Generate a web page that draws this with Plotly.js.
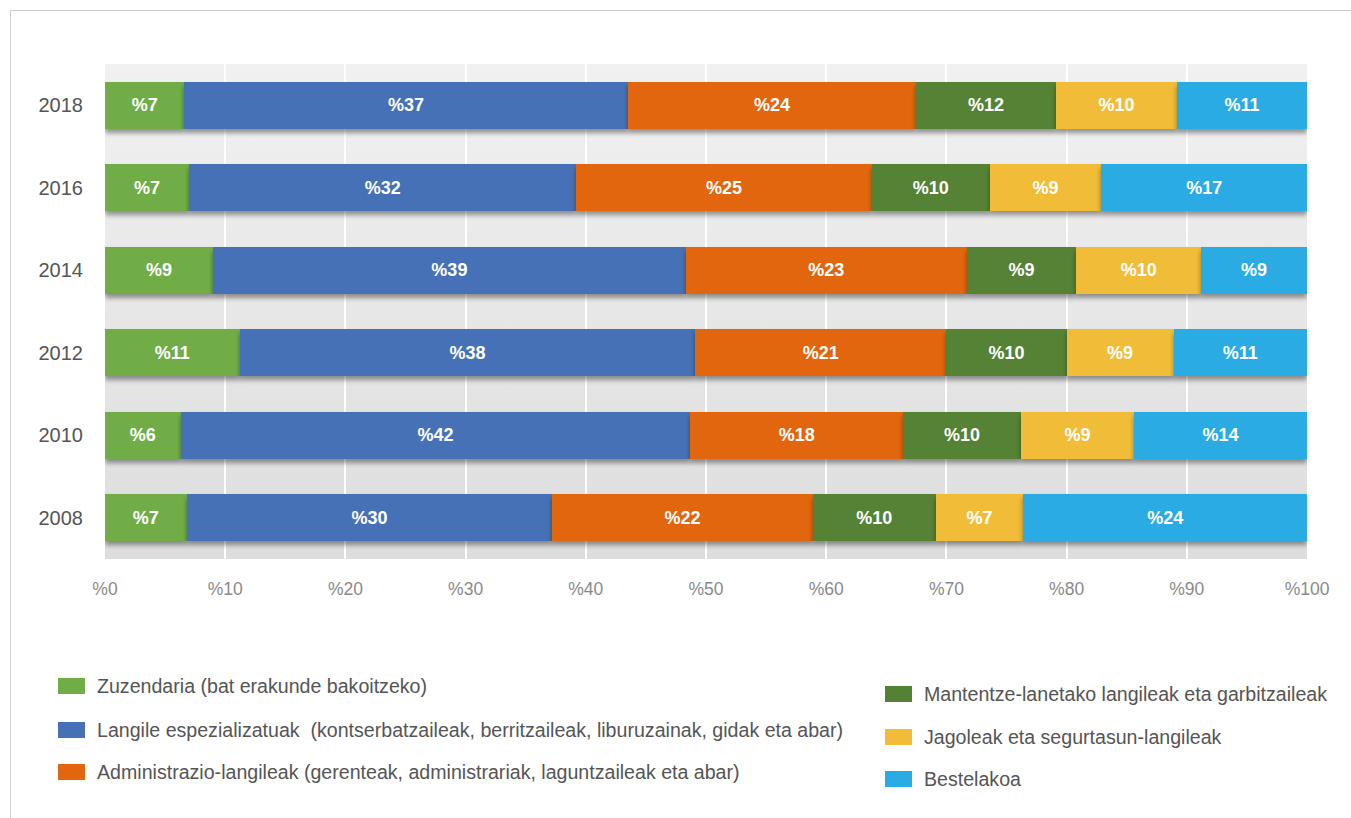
<!DOCTYPE html>
<html>
<head>
<meta charset="utf-8">
<script src="https://cdn.plot.ly/plotly-3.0.1.min.js"></script>
<style>
  html, body { margin: 0; padding: 0; background: #ffffff; }
  #wrap { position: relative; width: 1351px; height: 818px; }
  #chart { width: 1351px; height: 818px; }
  #frame { position: absolute; left: 10px; top: 10px; width: 1400px; height: 900px;
           border-left: 1px solid #cfcfcf; border-top: 1px solid #cfcfcf; pointer-events: none; }
  .barlayer .point path { filter: url(#barshadow); }
</style>
</head>
<body>
<svg width="0" height="0" style="position:absolute">
  <defs>
    <filter id="barshadow" x="-5%" y="-20%" width="110%" height="160%">
      <feGaussianBlur in="SourceAlpha" stdDeviation="2.5"/>
      <feOffset dx="0" dy="4" result="ob"/>
      <feComponentTransfer><feFuncA type="linear" slope="0.4"/></feComponentTransfer>
      <feMerge><feMergeNode/><feMergeNode in="SourceGraphic"/></feMerge>
    </filter>
  </defs>
</svg>
<div id="wrap">
  <div id="chart"></div>
  <div id="frame"></div>
</div>
<script>
// ---- data ----
const years = ['2018', '2016', '2014', '2012', '2010', '2008'];
const seriesNames = [
  'Zuzendaria (bat erakunde bakoitzeko)',
  'Langile espezializatuak  (kontserbatzaileak, berritzaileak, liburuzainak, gidak eta abar)',
  'Administrazio-langileak (gerenteak, administrariak, laguntzaileak eta abar)',
  'Mantentze-lanetako langileak eta garbitzaileak',
  'Jagoleak eta segurtasun-langileak',
  'Bestelakoa'
];
const seriesColors = ['#70AD47', '#4671B6', '#E2660F', '#548235', '#F1BD38', '#29ABE3'];
// values per year, in order 2018, 2016, 2014, 2012, 2010, 2008
const zuzendaria      = [6.6, 7.0, 9.0, 11.2, 6.3, 6.8];
const langileEsp      = [36.9, 32.2, 39.3, 37.9, 42.4, 30.4];
const administrazio   = [24.0, 24.6, 23.4, 20.9, 17.7, 21.7];
const mantentze       = [11.6, 9.8, 9.1, 10.0, 9.8, 10.2];
const jagoleak        = [10.1, 9.3, 10.4, 8.9, 9.4, 7.3];
const bestelakoa      = [10.8, 17.1, 8.8, 11.1, 14.4, 23.6];
const allSeries = [zuzendaria, langileEsp, administrazio, mantentze, jagoleak, bestelakoa];
const xTicks = [0, 10, 20, 30, 40, 50, 60, 70, 80, 90, 100];

const FONT = '"Liberation Sans", Arial, Helvetica, sans-serif';

const traces = allSeries.map((vals, i) => ({
  type: 'bar',
  orientation: 'h',
  name: seriesNames[i],
  y: years,
  x: vals,
  marker: { color: seriesColors[i], line: { width: 0 } },
  texttemplate: '%%{x:.0f}',
  textposition: 'inside',
  insidetextanchor: 'middle',
  constraintext: 'none',
  textfont: { family: FONT, size: 18, color: '#ffffff', weight: 'bold' },
  hoverinfo: 'name+x',
  showlegend: false
}));

// plot area geometry (pixels) for legend placement
const L = 105, R = 44, T = 64, B = 259, W = 1351, H = 818;
const pw = W - L - R, ph = H - T - B;
const px = x => (x - L) / pw;
const py = y => (H - B - y) / ph;

const shapes = [];
const annotations = [];
const legendPos = [
  { sx: 58, tx: 95, cy: 686 },
  { sx: 58, tx: 95, cy: 730 },
  { sx: 58, tx: 95, cy: 772 },
  { sx: 885, tx: 922, cy: 694 },
  { sx: 885, tx: 922, cy: 737 },
  { sx: 885, tx: 922, cy: 779 }
];
seriesNames.forEach((nm, i) => {
  const p = legendPos[i];
  shapes.push({
    type: 'rect', xref: 'paper', yref: 'paper',
    x0: px(p.sx), x1: px(p.sx + 27), y0: py(p.cy + 8), y1: py(p.cy - 8),
    fillcolor: seriesColors[i], line: { width: 0 }
  });
  annotations.push({
    xref: 'paper', yref: 'paper', x: px(p.tx), y: py(p.cy),
    xanchor: 'left', yanchor: 'middle', showarrow: false,
    text: nm, font: { family: FONT, size: 19.6, color: '#555555' }
  });
});

const gradSvg = "<svg xmlns='http://www.w3.org/2000/svg' width='100' height='100' preserveAspectRatio='none'>" +
  "<defs><linearGradient id='g' x1='0' y1='0' x2='0' y2='1'>" +
  "<stop offset='0' stop-color='#f1f1f1'/><stop offset='1' stop-color='#dddddd'/>" +
  "</linearGradient></defs><rect width='100' height='100' fill='url(#g)'/></svg>";

const layout = {
  width: W, height: H,
  margin: { l: L, r: R, t: T, b: B, pad: 0 },
  paper_bgcolor: 'rgba(0,0,0,0)',
  plot_bgcolor: 'rgba(0,0,0,0)',
  barmode: 'stack',
  bargap: 0.43,
  showlegend: false,
  font: { family: FONT },
  xaxis: {
    range: [0, 100], fixedrange: true,
    tickvals: xTicks, ticktext: xTicks.map(v => '%' + v),
    showgrid: true, gridcolor: '#ffffff', gridwidth: 2,
    zeroline: false, showline: false,
    ticks: 'outside', ticklen: 14, tickcolor: 'rgba(0,0,0,0)',
    tickfont: { family: FONT, size: 17.5, color: '#8a8a8a' }
  },
  yaxis: {
    type: 'category', categoryorder: 'array', categoryarray: years,
    autorange: 'reversed', fixedrange: true,
    showgrid: false, zeroline: false, showline: false,
    ticks: 'outside', ticklen: 17, tickcolor: 'rgba(0,0,0,0)',
    tickfont: { family: FONT, size: 20, color: '#555555' }
  },
  images: [{
    source: 'data:image/svg+xml;charset=utf-8,' + encodeURIComponent(gradSvg),
    xref: 'paper', yref: 'paper', x: 0, y: 1, sizex: 1, sizey: 1,
    xanchor: 'left', yanchor: 'top', sizing: 'stretch', layer: 'below'
  }],
  shapes: shapes,
  annotations: annotations
};

Plotly.newPlot('chart', traces, layout, { displayModeBar: false, staticPlot: true });
</script>
</body>
</html>
